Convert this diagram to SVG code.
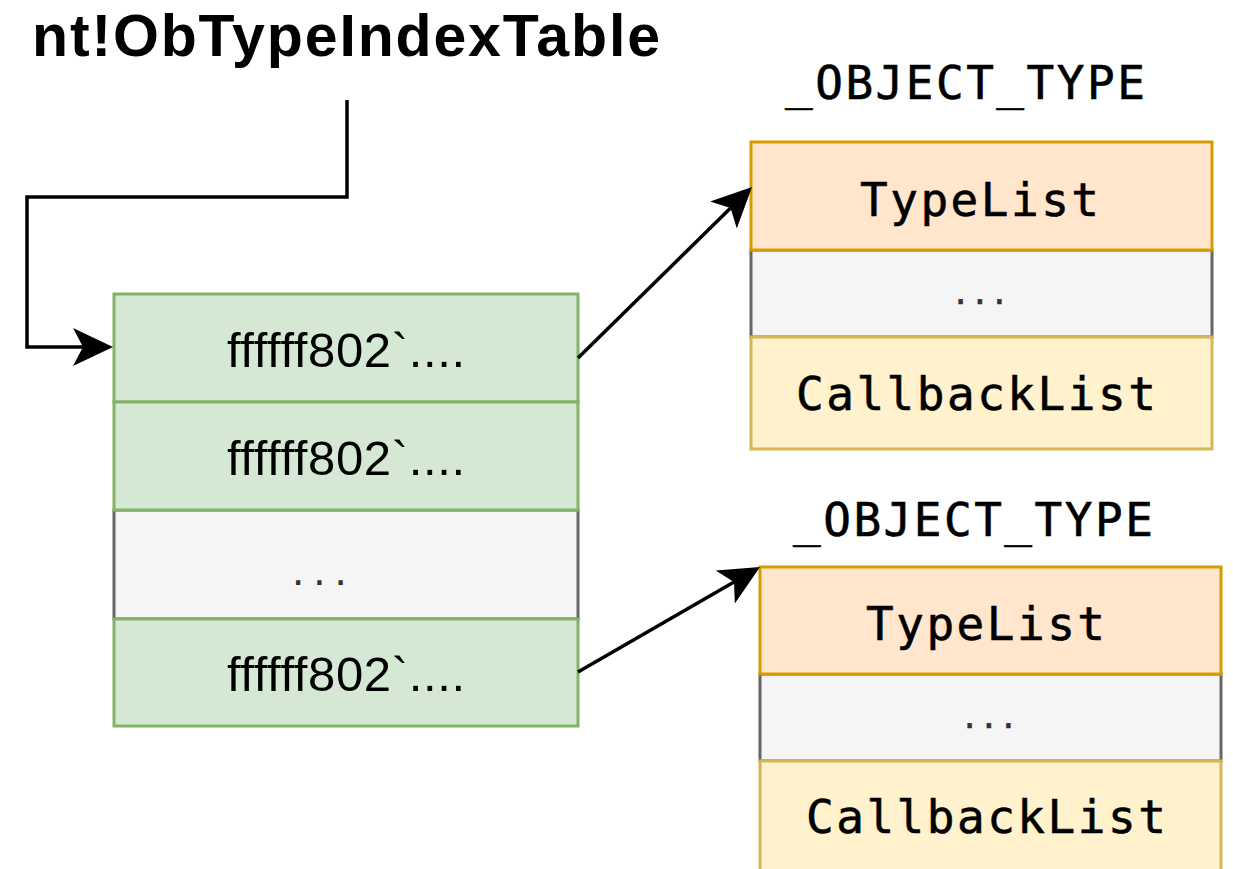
<svg xmlns="http://www.w3.org/2000/svg" width="1233" height="869" viewBox="0 0 1233 869">
  <defs>
    <marker id="arrow" viewBox="-40 -20 40 40" refX="-30" refY="0" markerWidth="40" markerHeight="40" markerUnits="userSpaceOnUse" orient="auto">
      <path d="M0,0 L-40,-19 L-30,0 L-40,19 Z" fill="#000"/>
    </marker>
    <style>
      .green { fill: #d5e8d4; stroke: #82b366; stroke-width: 3; }
      .gray { fill: #f5f5f5; stroke: #666666; stroke-width: 3; }
      .orange { fill: #ffe6cc; stroke: #d79b00; stroke-width: 3; }
      .yellow { fill: #fff2cc; stroke: #d6b656; stroke-width: 3; }
      .addr { font-family: "Liberation Sans", Arial, sans-serif; font-size: 49px; fill: #000; }
      .dots { font-family: "Liberation Sans", Arial, sans-serif; font-size: 44px; fill: #333333; letter-spacing: 9px; }
      .mono { font-family: "DejaVu Sans Mono", monospace; font-size: 46px; fill: #000; stroke: #000; stroke-width: 0.6px; letter-spacing: 2.5px; }
      .monodots { font-family: "DejaVu Sans Mono", monospace; font-size: 32px; fill: #333333; stroke: #333333; stroke-width: 0.5px; }
      .title { font-family: "Liberation Sans", Arial, sans-serif; font-size: 59px; font-weight: bold; fill: #000; }
      .edge { fill: none; stroke: #000; stroke-width: 3.5; marker-end: url(#arrow); }
    </style>
  </defs>
  <rect width="1233" height="869" fill="#fff"/>

  <!-- symbol name -->
  <g id="title">
    <text class="title" x="32" y="56" textLength="628">nt!ObTypeIndexTable</text>
  </g>

  <!-- index table -->
  <g id="index-table">
    <rect class="gray" x="114" y="510" width="464" height="109"/>
    <rect class="green" x="114" y="294" width="464" height="108"/>
    <rect class="green" x="114" y="402" width="464" height="108"/>
    <rect class="green" x="114" y="619" width="464" height="107"/>
    <text class="addr" x="346" y="367" text-anchor="middle" textLength="238">ffffff802`....</text>
    <text class="addr" x="346" y="475" text-anchor="middle" textLength="238">ffffff802`....</text>
    <text class="dots" x="292" y="585">...</text>
    <text class="addr" x="346" y="691" text-anchor="middle" textLength="238">ffffff802`....</text>
  </g>

  <!-- first object type -->
  <g id="object-type-1">
    <text class="mono" x="785" y="99">_OBJECT_TYPE</text>
    <rect class="gray" x="751" y="250" width="461" height="87"/>
    <rect class="orange" x="751" y="142" width="461" height="108"/>
    <rect class="yellow" x="751" y="337" width="461" height="112"/>
    <text class="mono" x="860" y="216">TypeList</text>
    <text class="monodots" x="980" y="304" text-anchor="middle">...</text>
    <text class="mono" x="796" y="410">CallbackList</text>
  </g>

  <!-- second object type -->
  <g id="object-type-2">
    <text class="mono" x="793" y="536">_OBJECT_TYPE</text>
    <rect class="gray" x="760" y="674" width="461" height="87"/>
    <rect class="orange" x="760" y="567" width="461" height="107"/>
    <rect class="yellow" x="760" y="761" width="461" height="112"/>
    <text class="mono" x="866" y="640">TypeList</text>
    <text class="monodots" x="989" y="728" text-anchor="middle">...</text>
    <text class="mono" x="806" y="833">CallbackList</text>
  </g>

  <!-- pointers -->
  <g id="connectors">
    <path class="edge" d="M347,100 L347,197 L27,197 L27,347 L83,347"/>
    <path class="edge" d="M578,358 L730.6,208"/>
    <path class="edge" d="M578,672 L734,582"/>
  </g>
</svg>
